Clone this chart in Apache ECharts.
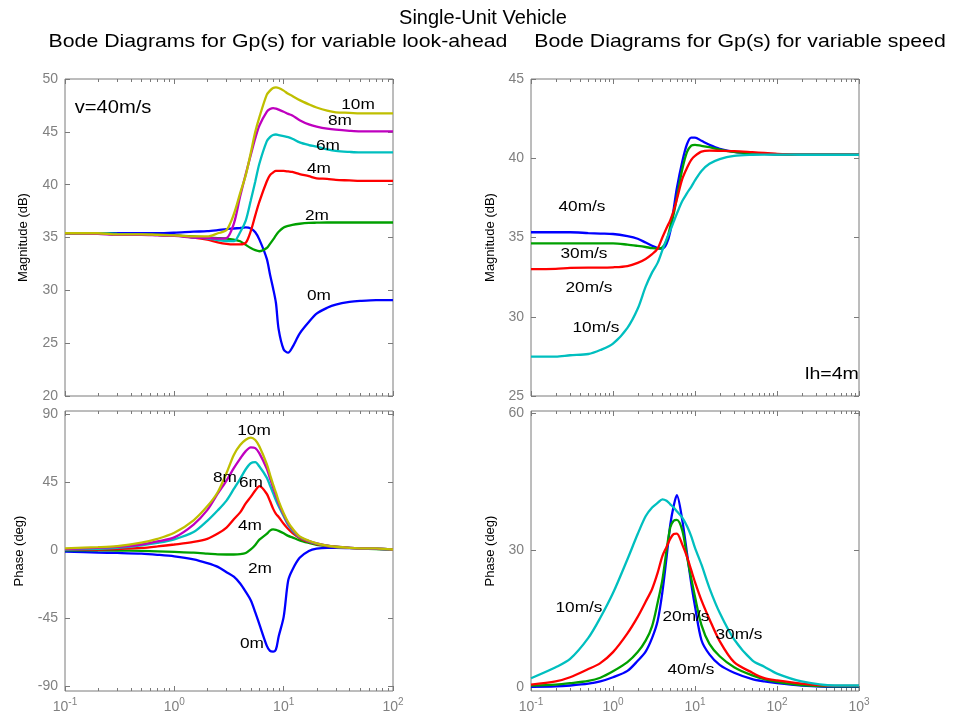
<!DOCTYPE html>
<html><head><meta charset="utf-8">
<script src="https://cdn.jsdelivr.net/npm/echarts@6/dist/echarts.min.js"></script>
<style>html,body{margin:0;padding:0;background:#fff}#c{width:953px;height:723px}</style>
</head><body><div id="c"></div>
<script>
// ---------- DATA ----------
const freqL = [0.1,0.2,0.3,0.5,0.7,1,1.5,2,2.5,3,3.5,4,4.5,5,5.5,6,7,7.5,8,8.5,9,10,11,12,14,17,20,25,30,40,50,70,100];
// magnitude (dB), variable look-ahead, v = 40 m/s
const magL0  = [35.4,35.4,35.4,35.4,35.4,35.45,35.55,35.6,35.7,35.8,35.85,35.9,35.95,35.85,35.5,34.8,33.0,31.5,30.2,28.8,26.3,24.4,24.1,24.6,25.9,27.0,27.8,28.35,28.65,28.9,29.0,29.08,29.08];
const magL2  = [35.4,35.4,35.35,35.3,35.25,35.2,35.1,35.0,34.95,34.9,34.8,34.65,34.3,34.0,33.8,33.7,34.0,34.4,34.8,35.2,35.55,35.95,36.1,36.2,36.3,36.38,36.4,36.42,36.42,36.42,36.42,36.42,36.42];
const magL4  = [35.4,35.4,35.3,35.3,35.25,35.2,35.0,34.8,34.55,34.4,34.35,34.35,34.5,35.6,37.1,38.4,40.3,40.9,41.15,41.3,41.3,41.3,41.25,41.2,41.0,40.8,40.6,40.55,40.45,40.4,40.35,40.35,40.35];
const magL6  = [35.4,35.4,35.35,35.3,35.25,35.2,35.0,34.9,34.75,34.65,34.65,35.5,36.6,38.5,40.3,42.0,44.1,44.5,44.7,44.75,44.7,44.6,44.5,44.35,44.0,43.75,43.6,43.35,43.2,43.1,43.05,43.05,43.05];
const magL8  = [35.4,35.35,35.25,35.25,35.2,35.15,35.0,34.95,34.9,34.95,36.3,38.9,41.0,42.8,44.4,45.6,46.9,47.15,47.25,47.2,47.1,46.9,46.7,46.55,46.1,45.7,45.5,45.3,45.2,45.1,45.05,45.05,45.05];
const magL10 = [35.4,35.4,35.3,35.3,35.25,35.2,35.1,35.1,35.4,35.7,37.2,39.2,40.9,43.0,45.0,46.4,48.5,48.9,49.15,49.2,49.15,48.9,48.6,48.4,48.0,47.6,47.3,47.0,46.85,46.8,46.75,46.75,46.75];
// phase (deg), variable look-ahead
const phL0  = [-0.9,-1.5,-1.8,-2.3,-3.0,-4.0,-6.0,-8.5,-11,-14.5,-17.5,-22,-27.5,-33,-41,-49,-63,-66.5,-67,-65.5,-57,-44,-20,-13,-5,-0.5,1.0,1.5,1.5,1.4,1.3,1.1,0.5];
const phL2  = [0,-0.1,-0.2,-0.4,-0.7,-1.1,-1.6,-2.2,-2.7,-2.8,-2.8,-2.6,-1.8,0.5,3.5,7.0,10.8,13.0,13.8,13.5,12.8,11.2,9.5,8.5,6.5,4.8,3.6,2.8,2.3,1.6,1.2,0.8,0.3];
const phL4  = [0.3,0.5,0.8,1.5,2.5,3.8,5.5,7.5,11,15,20.5,25,31,35.3,39.5,42.3,37.3,32.5,27.5,24,22,17.5,14,11.5,8,5.5,4.0,2.8,2.1,1.5,1.2,1.0,0.5];
const phL6  = [0.5,1.0,1.6,3.2,4.8,7.2,12,19.4,26.4,32.8,40.5,47.2,53.5,57.5,58.2,55.3,48,42.8,37.8,33,29,22.5,16.5,13,8.5,5.8,4.3,2.9,2.1,1.5,1.2,1.0,0.5];
const phL8  = [0.8,1.5,2.2,3.8,5.8,8.5,17,26.5,37.5,46,54.2,60.5,65.5,68,67.5,64,54,47.5,41.5,36,31,23.5,17.5,13.8,8.8,6.0,4.5,3.0,2.3,1.6,1.3,1.1,0.5];
const phL10 = [1.3,2.0,2.7,5.0,7.5,11.5,19.8,29,38.5,51,63,69.5,73,74.4,72.8,68.5,57,50,43.5,38,32.5,24.5,18.5,14.5,9.2,6.3,4.6,3.0,2.3,1.6,1.3,1.2,0.5];

const freqR = [0.1,0.2,0.3,0.5,0.7,1,1.5,2,2.5,3,3.5,4,4.5,5,5.5,6,7,8,9,10,12,15,20,30,50,70,100,200,500,1000];
// magnitude (dB), variable speed, lh = 4 m
const magR40 = [35.33,35.33,35.33,35.28,35.25,35.22,35.08,34.92,34.68,34.48,34.33,34.3,34.6,35.4,36.8,38.1,39.8,40.9,41.3,41.3,41.1,40.85,40.6,40.4,40.3,40.28,40.25,40.22,40.22,40.22];
const magR30 = [34.63,34.63,34.63,34.63,34.63,34.63,34.55,34.47,34.4,34.33,34.3,34.38,34.8,35.7,36.5,37.5,39.3,40.4,40.8,40.85,40.78,40.7,40.55,40.4,40.3,40.27,40.25,40.22,40.22,40.22];
const magR20 = [33.0,33.02,33.08,33.1,33.1,33.12,33.2,33.4,33.65,33.95,34.3,35.0,35.6,36.1,36.7,37.4,38.7,39.4,39.9,40.15,40.42,40.48,40.47,40.45,40.38,40.33,40.28,40.22,40.22,40.22];
const magR10 = [27.48,27.48,27.57,27.65,27.9,28.3,29.3,30.5,31.9,32.8,33.4,34.2,34.9,35.45,36.0,36.5,37.3,37.8,38.2,38.6,39.2,39.65,39.95,40.15,40.22,40.23,40.23,40.22,40.22,40.22];
// phase (deg), variable speed
const phR40 = [0.1,0.2,0.4,0.8,1.3,2.2,3.6,5.8,7.8,10.8,14.5,20.8,28.4,35.6,39.7,42,36.5,29.2,22.7,17.7,10.3,7.2,4.9,3.2,1.8,1.3,0.9,0.4,0.1,0.1];
const phR30 = [0.4,0.6,0.9,1.4,2.1,3.5,5.5,7.7,10.2,13.4,18.5,23.5,30,35,36.4,36.6,34.3,28.5,23.8,19.8,13.6,9.5,6.8,4.4,2.6,1.8,1.2,0.5,0.2,0.2];
const phR20 = [0.6,1.3,2.2,4.0,5.3,7.7,11.8,15.4,18.7,21.5,25,28.7,30.7,32.5,33.5,33.6,31.2,28.5,25.6,23,19,14.9,10.1,5.5,3.2,2.0,1.5,0.8,0.3,0.3];
const phR10 = [2.0,4.4,6.2,10.8,15.2,20.6,28,33.5,37.4,39.3,40.3,41.1,40.8,40.0,39.3,38.5,37.1,35.2,33,30.5,26.8,21.7,16.3,10.5,5.9,4.5,3.0,1.3,0.4,0.4];

// tick values / labels
const yTicksLT = [20,25,30,35,40,45,50];
const yTicksLB = [-90,-45,0,45,90];
const yTicksRT = [25,30,35,40,45];
const yTicksRB = [0,30,60];
const decadesL = [0.1,1,10,100];
const decadesR = [0.1,1,10,100,1000];

const namesL = ['0m','2m','4m','6m','8m','10m'];
const namesR = ['40m/s','30m/s','20m/s','10m/s'];

// ---------- STYLE ----------
const GRAY = '#7a7a7a';
const LBL = '#808080';
const FONT = 'Liberation Sans, Arial, sans-serif';
const colL = ['#0000ff','#00a000','#ff0000','#00bfbf','#bf00bf','#bfbf00'];
const colR = ['#0000ff','#00a000','#ff0000','#00bfbf'];

const grids = [
  {left:65, top:79, width:328, height:317},   // LT
  {left:65, top:411, width:328, height:280},  // LB
  {left:531, top:79, width:328, height:317},  // RT
  {left:531, top:411, width:328, height:280}  // RB
];
const yCfg = [
  {min:20, max:50, ticks:yTicksLT, name:'Magnitude (dB)', gap:35},
  {min:-93, max:92, ticks:yTicksLB, name:'Phase (deg)', gap:39},
  {min:25, max:45, ticks:yTicksRT, name:'Magnitude (dB)', gap:34},
  {min:-0.8, max:60.4, ticks:yTicksRB, name:'Phase (deg)', gap:34}
];
const xCfg = [
  {min:0.1, max:100, labels:false, dec:decadesL},
  {min:0.1, max:100, labels:true, dec:decadesL},
  {min:0.1, max:1000, labels:false, dec:decadesR},
  {min:0.1, max:1000, labels:true, dec:decadesR}
];

const xAxes = [], yAxes = [], series = [];
grids.forEach((g, i) => {
  const xc = xCfg[i], yc = yCfg[i];
  const xBase = {
    type:'log', logBase:10, gridIndex:i, min:xc.min, max:xc.max,
    axisLine:{show:false, onZero:false}, splitLine:{show:false},
    axisTick:{show:true, inside:true, length:5, lineStyle:{color:GRAY}}
  };
  xAxes.push(Object.assign({}, xBase, {
    position:'bottom',
    axisLabel:{show:xc.labels, margin:7, color:LBL,
      formatter:(v)=>'{b|10}{e|' + Math.round(Math.log10(v)) + '}',
      rich:{
        b:{fontSize:14, fontFamily:FONT, color:LBL, verticalAlign:'bottom', lineHeight:16},
        e:{fontSize:10, fontFamily:FONT, color:LBL, verticalAlign:'bottom', lineHeight:11, padding:[0,0,7,0]}
      }}
  }));
  xAxes.push(Object.assign({}, xBase, {position:'top', axisLabel:{show:false}}));
  const yBase = {
    type:'value', gridIndex:i, min:yc.min, max:yc.max,
    axisLine:{show:false, onZero:false}, splitLine:{show:false},
    axisTick:{show:true, inside:true, length:5, lineStyle:{color:GRAY}, customValues:yc.ticks}
  };
  yAxes.push(Object.assign({}, yBase, {
    position:'left', name:yc.name, nameLocation:'middle', nameGap:yc.gap,
    nameTextStyle:{fontSize:13, fontFamily:FONT, color:'#000'},
    axisLabel:{show:true, customValues:yc.ticks, margin:7, color:LBL, fontSize:14, fontFamily:FONT}
  }));
  yAxes.push(Object.assign({}, yBase, {position:'right', axisLabel:{show:false}}));
});

function lineSeries(freq, vals, color, gi, name) {
  return {
    type:'line', name:name, xAxisIndex:gi*2, yAxisIndex:gi*2,
    data: freq.map((f, k) => [f, vals[k]]),
    showSymbol:false, symbol:'none', smooth:0.3, clip:true,
    lineStyle:{color:color, width:2.3}, itemStyle:{color:color},
    emphasis:{disabled:true}, animation:false, z:3
  };
}
[magL0,magL2,magL4,magL6,magL8,magL10].forEach((d,k)=>series.push(lineSeries(freqL,d,colL[k],0,namesL[k])));
[phL0,phL2,phL4,phL6,phL8,phL10].forEach((d,k)=>series.push(lineSeries(freqL,d,colL[k],1,namesL[k])));
[magR40,magR30,magR20,magR10].forEach((d,k)=>series.push(lineSeries(freqR,d,colR[k],2,namesR[k])));
[phR40,phR30,phR20,phR10].forEach((d,k)=>series.push(lineSeries(freqR,d,colR[k],3,namesR[k])));

// minor log ticks (2..9 in every decade), drawn at bottom and top of each box
function minorValues(dec) {
  const out = [];
  for (let d = 0; d < dec.length - 1; d++) for (let m = 2; m <= 9; m++) out.push(dec[d] * m);
  return out;
}
grids.forEach((g, i) => {
  const yc = yCfg[i];
  series.push({
    type:'custom', xAxisIndex:i*2, yAxisIndex:i*2, silent:true, animation:false, z:4,
    data: minorValues(xCfg[i].dec).map(v => [v, (yc.min + yc.max) / 2]),
    renderItem:(params, api) => {
      const x = Math.round(api.coord([api.value(0), api.value(1)])[0]) + 0.5;
      const cs = params.coordSys;
      const st = {stroke:GRAY, lineWidth:1};
      return {type:'group', children:[
        {type:'line', shape:{x1:x, y1:cs.y + cs.height, x2:x, y2:cs.y + cs.height - 3}, style:st},
        {type:'line', shape:{x1:x, y1:cs.y, x2:x, y2:cs.y + 3}, style:st}
      ]};
    }
  });
});

// ---------- TEXT ----------
const SX = 1.15;
function txt(x, y, s, size, sx) {
  return {type:'text', x:x, y:y, scaleX:(sx || SX), z:10, silent:true,
    style:{text:s, fontSize:size, fontFamily:FONT, fill:'#000', align:'center', verticalAlign:'middle'}};
}
const graphics = [
  txt(483, 18, 'Single-Unit Vehicle', 20, 1.0),
  txt(278, 42, 'Bode Diagrams for Gp(s) for variable look-ahead', 18.5),
  txt(740, 42, 'Bode Diagrams for Gp(s) for variable speed', 18.5),
  txt(113, 108, 'v=40m/s', 17.5),
  txt(832, 374, 'lh=4m', 17),
  txt(358, 105, '10m', 15), txt(340, 121, '8m', 15), txt(328, 146, '6m', 15),
  txt(319, 169, '4m', 15), txt(317, 216, '2m', 15), txt(319, 296, '0m', 15),
  txt(254, 431, '10m', 15), txt(225, 478, '8m', 15), txt(251, 483, '6m', 15),
  txt(250, 526, '4m', 15), txt(260, 569, '2m', 15), txt(252, 644, '0m', 15),
  txt(582, 207, '40m/s', 15), txt(584, 254, '30m/s', 15), txt(589, 288, '20m/s', 15), txt(596, 328, '10m/s', 15),
  txt(579, 608, '10m/s', 15), txt(686, 617, '20m/s', 15), txt(739, 635, '30m/s', 15), txt(691, 670, '40m/s', 15)
];

const chart = echarts.init(document.getElementById('c'), null, {renderer:'canvas'});
chart.setOption({
  animation:false,
  backgroundColor:'#ffffff',
  grid: grids.map(g => Object.assign({show:true, borderColor:GRAY, borderWidth:1, backgroundColor:'transparent', containLabel:false}, g)),
  xAxis: xAxes,
  yAxis: yAxes,
  series: series,
  graphic: graphics
});
</script></body></html>
